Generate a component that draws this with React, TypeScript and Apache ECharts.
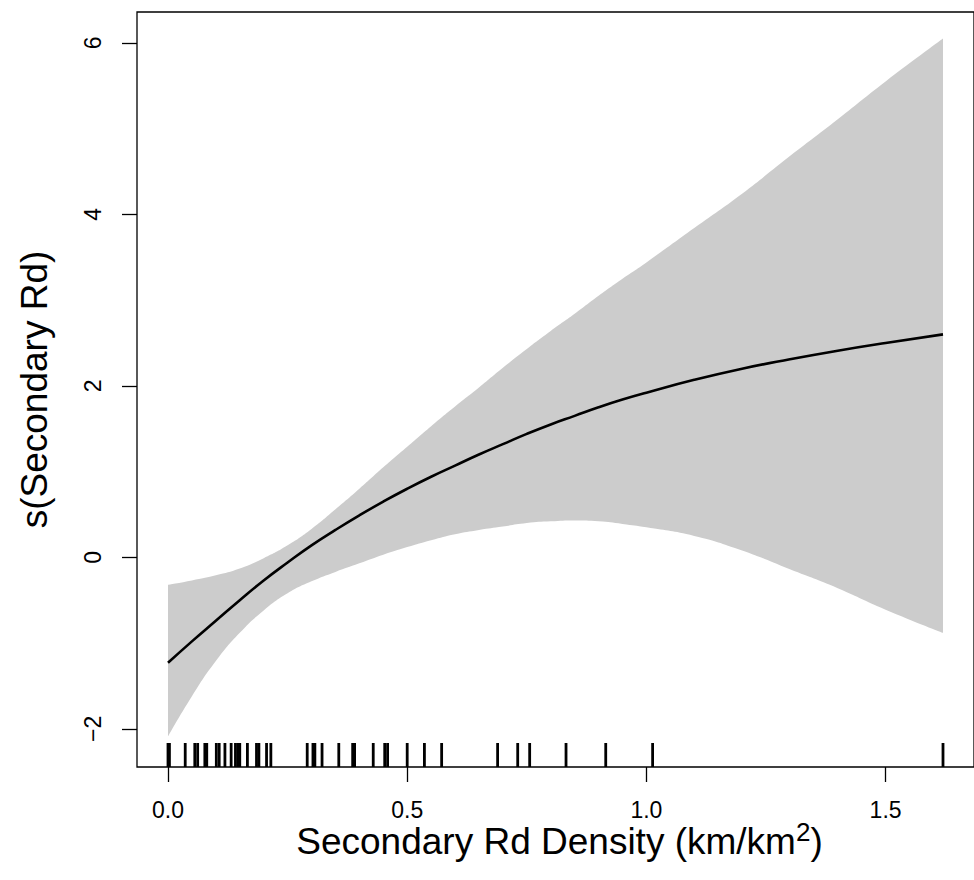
import React, { useEffect, useRef } from "react";
import * as echarts from "echarts";

// ---- data ----
const xGrid = [0, 0.05, 0.1, 0.15, 0.2, 0.25, 0.3, 0.35, 0.4, 0.45, 0.5, 0.55, 0.6, 0.65, 0.7, 0.75, 0.8, 0.85, 0.9, 0.95, 1.0, 1.1, 1.2, 1.3, 1.4, 1.5, 1.62];
const fitValues = [-1.23, -0.98, -0.74, -0.5, -0.27, -0.06, 0.14, 0.32, 0.49, 0.65, 0.8, 0.94, 1.07, 1.2, 1.32, 1.44, 1.55, 1.65, 1.75, 1.84, 1.92, 2.07, 2.2, 2.31, 2.41, 2.5, 2.6];
const upperValues = [-0.32, -0.27, -0.21, -0.13, -0.01, 0.14, 0.33, 0.56, 0.8, 1.05, 1.29, 1.53, 1.76, 1.98, 2.21, 2.43, 2.64, 2.84, 3.05, 3.25, 3.44, 3.84, 4.24, 4.68, 5.11, 5.55, 6.05];
const lowerValues = [-2.09, -1.62, -1.21, -0.88, -0.62, -0.42, -0.28, -0.17, -0.07, 0.03, 0.12, 0.2, 0.27, 0.32, 0.36, 0.4, 0.42, 0.43, 0.42, 0.39, 0.35, 0.25, 0.08, -0.14, -0.36, -0.61, -0.88];
const rugValues = [0.0, 0.001, 0.003, 0.036, 0.056, 0.062, 0.077, 0.081, 0.101, 0.107, 0.119, 0.132, 0.141, 0.146, 0.15, 0.166, 0.185, 0.19, 0.206, 0.215, 0.291, 0.303, 0.307, 0.322, 0.357, 0.386, 0.39, 0.429, 0.453, 0.459, 0.5, 0.536, 0.572, 0.689, 0.731, 0.756, 0.832, 0.915, 1.013, 1.62];
const xTickValues = [0, 0.5, 1.0, 1.5];
const yTickValues = [-2, 0, 2, 4, 6];
const X_MIN = -0.0648;
const X_MAX = 1.6848;
const Y_MIN = -2.445;
const Y_MAX = 6.36;
const xTitle = "Secondary Rd Density (km/km{sup|2})";
const yTitle = "s(Secondary Rd)";

const FONT = '"Liberation Sans", Arial, Helvetica, sans-serif';

export default function App() {
  const ref = useRef<HTMLDivElement>(null);
  useEffect(() => {
    document.body.style.margin = "0";
    if (!ref.current) return;
    const chart = echarts.init(ref.current, undefined, { renderer: "svg" });
    const lowerPairs = xGrid.map((x, i) => [x, lowerValues[i]]);
    const upperPairs = xGrid.map((x, i) => [x, upperValues[i]]);
    const fitPairs = xGrid.map((x, i) => [x, fitValues[i]]);
    const rugPairs = rugValues.map((v) => [v, Y_MIN]);
    const option: any = {
      animation: false,
      grid: {
        left: 137,
        top: 12,
        right: -8,
        bottom: 113,
        show: true,
        z: 10,
        borderColor: "#000",
        borderWidth: 1.3,
        backgroundColor: "transparent",
      },
      xAxis: {
        type: "value",
        min: X_MIN,
        max: X_MAX,
        axisLine: { show: false, onZero: false },
        axisTick: {
          show: true,
          length: 15,
          customValues: xTickValues,
          lineStyle: { color: "#000", width: 1.3 },
        },
        axisLabel: {
          customValues: xTickValues,
          formatter: (v: number) => v.toFixed(1),
          margin: 31,
          fontSize: 23,
          color: "#000",
          fontFamily: FONT,
        },
        splitLine: { show: false },
      },
      yAxis: {
        type: "value",
        min: Y_MIN,
        max: Y_MAX,
        axisLine: { show: false, onZero: false },
        axisTick: {
          show: true,
          length: 15,
          customValues: yTickValues,
          lineStyle: { color: "#000", width: 1.3 },
        },
        axisLabel: {
          customValues: yTickValues,
          formatter: (v: number) => String(v).replace("-", "\u2212"),
          rotate: 90,
          margin: 33,
          fontSize: 23,
          color: "#000",
          fontFamily: FONT,
        },
        splitLine: { show: false },
      },
      graphic: [
        {
          type: "text",
          x: 559.5,
          y: 841,
          style: {
            text: xTitle,
            fontSize: 37,
            lineHeight: 44,
            fontFamily: FONT,
            fill: "#000",
            align: "center",
            verticalAlign: "middle",
            rich: {
              sup: { fontSize: 26, lineHeight: 26, verticalAlign: "top", fontFamily: FONT, fill: "#000" },
            },
          },
        },
        {
          type: "text",
          x: 34,
          y: 389.5,
          rotation: Math.PI / 2,
          style: {
            text: yTitle,
            fontSize: 37,
            fontFamily: FONT,
            fill: "#000",
            align: "center",
            verticalAlign: "middle",
          },
        },
      ],
      series: [
        {
          type: "line",
          data: upperPairs,
          symbol: "none",
          smooth: true,
          lineStyle: { opacity: 0, width: 0 },
          areaStyle: { color: "#cccccc", opacity: 1, origin: "start" },
          z: 1,
          silent: true,
        },
        {
          type: "line",
          data: lowerPairs,
          symbol: "none",
          smooth: true,
          lineStyle: { opacity: 0, width: 0 },
          areaStyle: { color: "#ffffff", opacity: 1, origin: "start" },
          z: 1,
          silent: true,
        },
        {
          type: "line",
          data: fitPairs,
          symbol: "none",
          smooth: true,
          lineStyle: { color: "#000", width: 2.6 },
          z: 3,
          silent: true,
        },
        {
          type: "custom",
          data: rugPairs,
          encode: { x: 0, y: 1 },
          silent: true,
          z: 4,
          renderItem: (params: any, api: any) => {
            const p = api.coord([api.value(0), api.value(1)]);
            return {
              type: "line",
              shape: { x1: p[0], y1: p[1], x2: p[0], y2: p[1] - 24 },
              style: { stroke: "#000", lineWidth: 2.8 },
            };
          },
        },
      ],
    };
    chart.setOption(option);
    return () => chart.dispose();
  }, []);
  return <div ref={ref} style={{ width: 974, height: 880 }} />;
}
